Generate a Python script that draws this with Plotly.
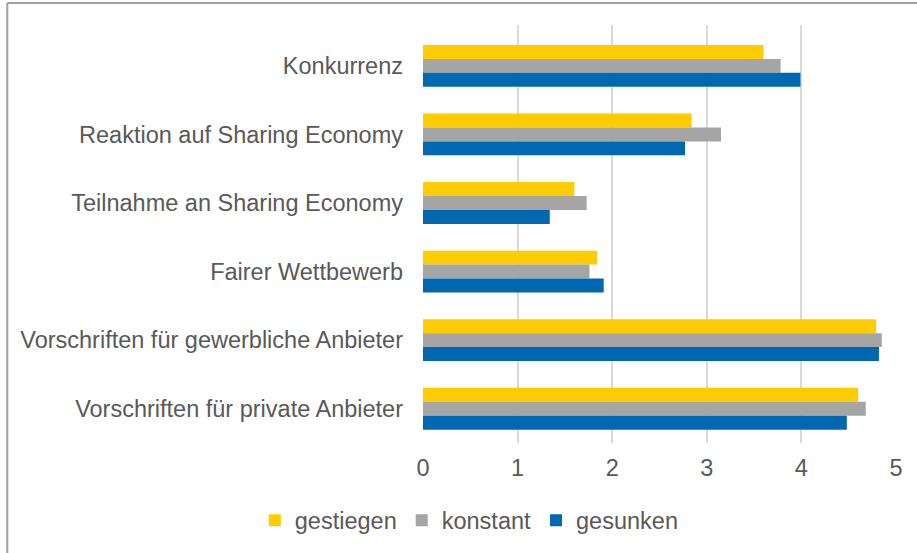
import plotly.graph_objects as go

categories = [
    "Konkurrenz",
    "Reaktion auf Sharing Economy",
    "Teilnahme an Sharing Economy",
    "Fairer Wettbewerb",
    "Vorschriften für gewerbliche Anbieter",
    "Vorschriften für private Anbieter",
]
gestiegen = [3.60, 2.84, 1.60, 1.84, 4.79, 4.60]
konstant = [3.78, 3.15, 1.73, 1.76, 4.85, 4.68]
gesunken = [3.99, 2.77, 1.34, 1.91, 4.82, 4.48]
x_ticks = [0, 1, 2, 3, 4, 5]

series = [
    ("gestiegen", gestiegen, "#FFCC00"),
    ("konstant", konstant, "#A5A5A5"),
    ("gesunken", gesunken, "#0067B1"),
]

W, H = 917, 553
L, R, T, B = 422.7, 21.3, 25, 108.6
pw = W - L - R
ph = H - T - B

fig = go.Figure()
for name, vals, col in series:
    fig.add_trace(go.Bar(
        y=categories, x=vals, name=name, orientation="h",
        marker=dict(color=col, line=dict(width=0)),
    ))

font = dict(family="Liberation Sans, Arial, sans-serif", size=23.5, color="#595959")

fig.update_layout(
    width=W, height=H,
    margin=dict(l=L, r=R, t=T, b=B, pad=0),
    paper_bgcolor="white", plot_bgcolor="white",
    barmode="group", bargap=0.39, bargroupgap=0,
    font=font,
    showlegend=True,
    legend=dict(
        orientation="h", x=(469 - L) / pw, xanchor="center",
        y=(H - B - 521) / ph, yanchor="middle",
        font=font, itemwidth=30, traceorder="normal",
    ),
    xaxis=dict(
        range=[0, 5], tickvals=x_ticks, showgrid=True, gridcolor="#D9D9D9",
        gridwidth=2, zeroline=False, showline=False, ticks="",
        tickfont=font, ticklabelstandoff=8,
    ),
    yaxis=dict(
        range=[5.5, -0.596], showgrid=False, zeroline=False, showline=False,
        ticks="", tickfont=font, ticklabelstandoff=19,
    ),
)

# outer chart border (left and top edges visible)
fig.add_shape(type="line", xref="paper", yref="paper",
              x0=(7 - L) / pw, x1=(W + 5 - L) / pw,
              y0=(H - B - 3) / ph, y1=(H - B - 3) / ph,
              line=dict(color="#A0A0A0", width=2))
fig.add_shape(type="line", xref="paper", yref="paper",
              x0=(7 - L) / pw, x1=(7 - L) / pw,
              y0=(H - B - 3) / ph, y1=(H - B - H - 5) / ph,
              line=dict(color="#A0A0A0", width=2))

fig.write_html("out.html", config={"displayModeBar": False},
               post_script="document.body.style.margin='0';")
